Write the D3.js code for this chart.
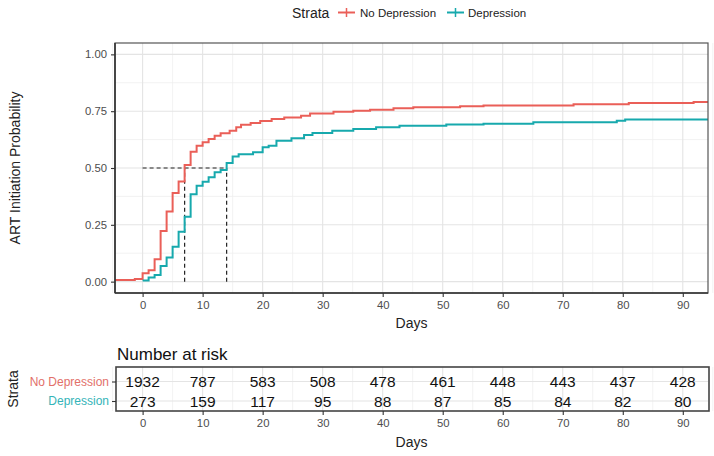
<!DOCTYPE html>
<html><head><meta charset="utf-8">
<script src="https://cdn.jsdelivr.net/npm/d3@7"></script>
<style>body{margin:0;background:#fff;font-family:"Liberation Sans",Arial,sans-serif;}</style>
</head><body><svg id="c" width="714" height="456"></svg>
<script>
const strata = ["No Depression", "Depression"];
const colors = ["#EA5F58", "#17A9AD"];
const textColors = ["#E2706A", "#34B4B8"];
const noDepTime = [-5, -1.3, 0, 1, 2, 3, 4, 5, 6, 7, 8, 9, 10, 11, 12, 13, 14.5, 15.6, 16.4, 18, 19.6, 21.5, 23.6, 26.4, 27.9, 31.8, 35.1, 37.9, 41.8, 45.1, 52.9, 56.8, 71.8, 81, 91.8, 96];
const noDepProb = [0.007, 0.012, 0.037, 0.05, 0.098, 0.223, 0.309, 0.39, 0.441, 0.513, 0.572, 0.598, 0.613, 0.628, 0.642, 0.653, 0.664, 0.679, 0.69, 0.698, 0.707, 0.716, 0.722, 0.730, 0.740, 0.748, 0.752, 0.756, 0.763, 0.767, 0.772, 0.775, 0.781, 0.786, 0.790, 0.790];
const depTime = [0, 1, 2, 3, 4, 5, 6, 7, 8, 9, 10, 11, 12, 13, 14, 15, 16, 18.4, 20, 21, 22.3, 24.8, 26.9, 28.3, 31.6, 35.1, 38.9, 42.8, 50.6, 56.8, 65.1, 79, 80.4, 96];
const depProb = [0.005, 0.018, 0.029, 0.069, 0.106, 0.154, 0.219, 0.285, 0.385, 0.422, 0.44, 0.459, 0.481, 0.491, 0.522, 0.551, 0.561, 0.569, 0.591, 0.598, 0.62, 0.631, 0.645, 0.654, 0.664, 0.672, 0.679, 0.686, 0.691, 0.695, 0.701, 0.708, 0.713, 0.713];
const medians = [7, 14];
const xTicks = [0, 10, 20, 30, 40, 50, 60, 70, 80, 90];
const yTicks = [0, 0.25, 0.5, 0.75, 1.0];
const riskNoDep = [1932, 787, 583, 508, 478, 461, 448, 443, 437, 428];
const riskDep = [273, 159, 117, 95, 88, 87, 85, 84, 82, 80];

const svg = d3.select("#c");
const L = 115, R = 708, T = 43, B = 293;
const x = d3.scaleLinear().domain([-4.6, 94.2]).range([L, R]);
const y = d3.scaleLinear().domain([-0.05, 1.05]).range([B, T]);
const gridMajor = "#E4E4E4", gridMinor = "#EFEFEF";

// main panel grid
const minorX = d3.range(-5, 96, 5).filter(v => v % 10 !== 0);
const minorY = [0.125, 0.375, 0.625, 0.875];
const g = svg.append("g");
g.selectAll(".mx").data(minorX).join("line").attr("x1", d => x(d)).attr("x2", d => x(d)).attr("y1", T).attr("y2", B).attr("stroke", gridMinor).attr("stroke-width", 0.8);
g.selectAll(".my").data(minorY).join("line").attr("x1", L).attr("x2", R).attr("y1", d => y(d)).attr("y2", d => y(d)).attr("stroke", gridMinor).attr("stroke-width", 0.8);
g.selectAll(".gx").data(xTicks).join("line").attr("x1", d => x(d)).attr("x2", d => x(d)).attr("y1", T).attr("y2", B).attr("stroke", gridMajor).attr("stroke-width", 1.1);
g.selectAll(".gy").data(yTicks).join("line").attr("x1", L).attr("x2", R).attr("y1", d => y(d)).attr("y2", d => y(d)).attr("stroke", gridMajor).attr("stroke-width", 1.1);

svg.append("clipPath").attr("id", "clip").append("rect").attr("x", L).attr("y", T).attr("width", R - L).attr("height", B - T);

// median lines
const dg = svg.append("g").attr("stroke", "#222").attr("stroke-width", 1.2).attr("stroke-dasharray", "4,3").attr("fill", "none");
dg.append("line").attr("x1", x(0)).attr("x2", x(d3.max(medians))).attr("y1", y(0.5)).attr("y2", y(0.5));
dg.selectAll(".v").data(medians).join("line").attr("x1", d => x(d)).attr("x2", d => x(d)).attr("y1", y(0)).attr("y2", y(0.5));

// curves
const line = d3.line().x(d => x(d[0])).y(d => y(d[1])).curve(d3.curveStepAfter);
const series = [d3.zip(noDepTime, noDepProb), d3.zip(depTime, depProb)];
svg.append("g").attr("clip-path", "url(#clip)").selectAll("path").data(series).join("path")
  .attr("d", line).attr("fill", "none").attr("stroke", (d, i) => colors[i]).attr("stroke-width", 2);

// border & axes
svg.append("rect").attr("x", L).attr("y", T).attr("width", R - L).attr("height", B - T).attr("fill", "none").attr("stroke", "#555").attr("stroke-width", 1.2);
svg.append("line").attr("x1", L).attr("x2", L).attr("y1", T).attr("y2", B).attr("stroke", "#333").attr("stroke-width", 1.6);
svg.append("line").attr("x1", L).attr("x2", R).attr("y1", B).attr("y2", B).attr("stroke", "#333").attr("stroke-width", 1.6);

const xa = svg.append("g").attr("transform", `translate(0,${B})`).call(d3.axisBottom(x).tickValues(xTicks).tickSize(4).tickPadding(4).tickFormat(d3.format("d")));
const ya = svg.append("g").attr("transform", `translate(${L},0)`).call(d3.axisLeft(y).tickValues(yTicks).tickSize(4).tickPadding(4).tickFormat(d3.format(".2f")));
[xa, ya].forEach(a => {
  a.select(".domain").remove();
  a.selectAll(".tick line").attr("stroke", "#333").attr("stroke-width", 1.1);
  a.selectAll(".tick text").attr("fill", "#4D4D4D").attr("font-size", 11.3).attr("font-family", "Liberation Sans, Arial, sans-serif");
});

svg.append("text").attr("x", (L + R) / 2 + 0).attr("y", 328).attr("text-anchor", "middle").attr("font-size", 14).attr("fill", "#222").text("Days");
svg.append("text").attr("transform", `translate(20,${(T + B) / 2}) rotate(-90)`).attr("text-anchor", "middle").attr("font-size", 14).attr("fill", "#222").text("ART Initiation Probability");

// legend
const lg = svg.append("g");
lg.append("text").attr("x", 292).attr("y", 17.5).attr("font-size", 14).attr("fill", "#222").text("Strata");
const legX = [[338, 360], [447, 468]];
strata.forEach((s, i) => {
  const [kx, tx] = legX[i];
  lg.append("line").attr("x1", kx).attr("x2", kx + 17).attr("y1", 12.5).attr("y2", 12.5).attr("stroke", colors[i]).attr("stroke-width", 2);
  lg.append("line").attr("x1", kx + 8.5).attr("x2", kx + 8.5).attr("y1", 8).attr("y2", 17).attr("stroke", colors[i]).attr("stroke-width", 1.5);
  lg.append("text").attr("x", tx).attr("y", 16.5).attr("font-size", 11.5).attr("fill", "#222").text(s);
});

// risk table
const TT = 367, TB = 411;
const rowY = d3.scalePoint().domain(strata).range([381.5, 401]);
const tg = svg.append("g");
tg.selectAll(".tmx").data(minorX).join("line").attr("x1", d => x(d)).attr("x2", d => x(d)).attr("y1", TT).attr("y2", TB).attr("stroke", gridMinor).attr("stroke-width", 0.8);
tg.selectAll(".tgx").data(xTicks).join("line").attr("x1", d => x(d)).attr("x2", d => x(d)).attr("y1", TT).attr("y2", TB).attr("stroke", gridMajor).attr("stroke-width", 1.1);
tg.selectAll(".tgy").data(strata).join("line").attr("x1", L).attr("x2", R).attr("y1", d => rowY(d)).attr("y2", d => rowY(d)).attr("stroke", gridMajor).attr("stroke-width", 1.1);
const riskRows = [riskNoDep, riskDep];
riskRows.forEach((row, i) => {
  tg.selectAll(".r" + i).data(row).join("text").attr("x", (d, j) => x(xTicks[j])).attr("y", rowY(strata[i]))
    .attr("dominant-baseline", "central").attr("text-anchor", "middle").attr("font-size", 15.5).attr("fill", "#111").text(d => d);
});
svg.append("rect").attr("x", L + 1).attr("y", TT).attr("width", R - L).attr("height", TB - TT).attr("fill", "none").attr("stroke", "#444").attr("stroke-width", 1.6);
const txa = svg.append("g").attr("transform", `translate(0,${TB})`).call(d3.axisBottom(x).tickValues(xTicks).tickSize(4).tickPadding(4).tickFormat(d3.format("d")));
const tya = svg.append("g").attr("transform", `translate(${L + 1},0)`).call(d3.axisLeft(rowY).tickSize(4).tickPadding(3));
[txa, tya].forEach(a => {
  a.select(".domain").remove();
  a.selectAll(".tick line").attr("stroke", "#333").attr("stroke-width", 1.1);
  a.selectAll(".tick text").attr("fill", "#4D4D4D").attr("font-size", 11.3).attr("font-family", "Liberation Sans, Arial, sans-serif");
});
tya.selectAll(".tick text").attr("fill", (d, i) => textColors[i]).attr("font-size", 12);
svg.append("text").attr("x", 117).attr("y", 360).attr("font-size", 17).attr("fill", "#111").text("Number at risk");
svg.append("text").attr("x", (L + R) / 2).attr("y", 446.5).attr("text-anchor", "middle").attr("font-size", 14).attr("fill", "#222").text("Days");
svg.append("text").attr("transform", `translate(18,389) rotate(-90)`).attr("text-anchor", "middle").attr("font-size", 14).attr("fill", "#222").text("Strata");
</script></body></html>
